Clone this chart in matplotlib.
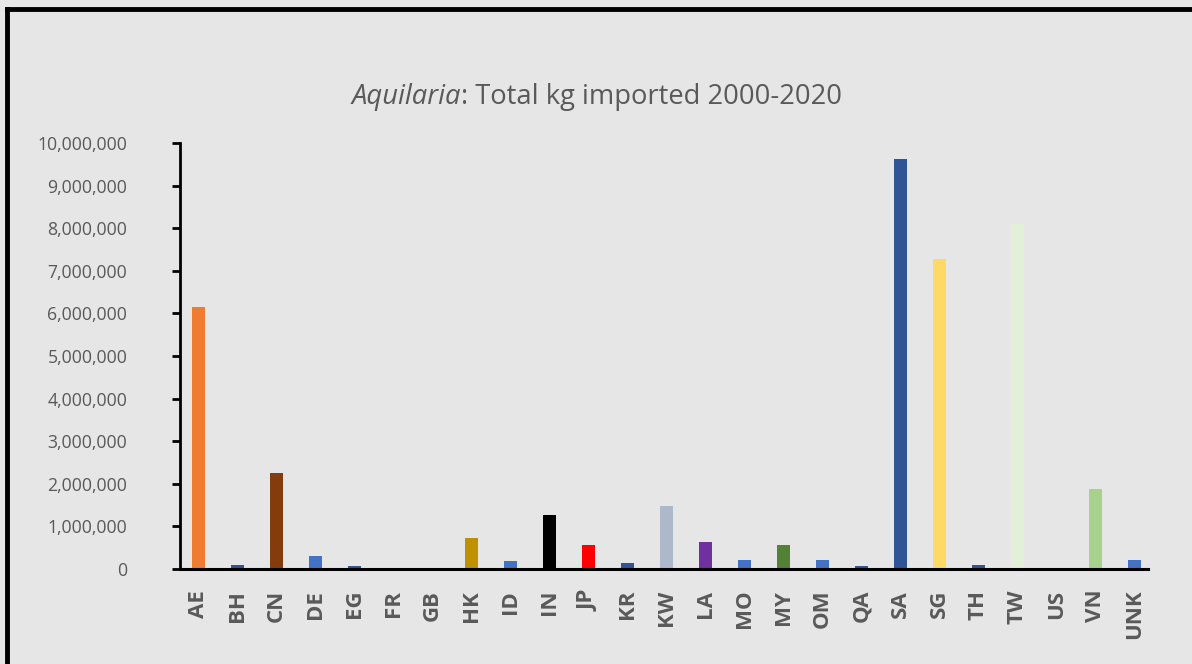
import matplotlib.pyplot as plt
from matplotlib.lines import Line2D
from matplotlib.ticker import FuncFormatter

countries = ["AE", "BH", "CN", "DE", "EG", "FR", "GB", "HK", "ID", "IN",
             "JP", "KR", "KW", "LA", "MO", "MY", "OM", "QA", "SA", "SG",
             "TH", "TW", "US", "VN", "UNK"]
kg_imported = [6150000, 100000, 2250000, 300000, 70000, 0, 0, 730000, 190000, 1270000,
               570000, 140000, 1480000, 640000, 220000, 560000, 220000, 60000, 9620000, 7270000,
               100000, 8100000, 0, 1870000, 220000]
bar_colors = ["#ED7D31", "#2F5597", "#843C0C", "#4472C4", "#2F5597", "#4472C4", "#4472C4",
              "#BF9000", "#4472C4", "#000000", "#FF0000", "#2F5597", "#ADB9CA", "#7030A0",
              "#4472C4", "#548235", "#4472C4", "#2F5597", "#2F5597", "#FFD966", "#2F5597",
              "#E2F0D9", "#4472C4", "#A9D18E", "#4472C4"]

bg = "#E7E6E6"
grey = "#595959"
W, H = 1192, 664

plt.rcParams["font.family"] = ["Open Sans", "DejaVu Sans"]

fig = plt.figure(figsize=(W / 100, H / 100), dpi=100, facecolor=bg)
ax = fig.add_axes([180 / W, 1 - 569 / H, 968 / W, 426 / H])
ax.set_facecolor(bg)

x = range(len(countries))
ax.bar(x, kg_imported, width=0.32, color=bar_colors)

ax.set_ylim(0, 10000000)
ax.set_xlim(-0.47, 24.35)
ax.set_yticks(range(0, 10000001, 1000000))
ax.yaxis.set_major_formatter(FuncFormatter(lambda v, p: f"{int(v):,}"))
ax.set_xticks(list(x))
ax.set_xticklabels(countries, rotation=90, fontweight="bold", fontsize=16, color=grey)
ax.tick_params(axis="x", length=0, pad=15)
ax.tick_params(axis="y", length=6, width=2, colors="black", labelcolor=grey,
               labelsize=12.7, pad=32)

for s in ["top", "right"]:
    ax.spines[s].set_visible(False)
ax.spines["left"].set_linewidth(2)
ax.spines["bottom"].set_linewidth(2.2)

# title: italic genus name followed by plain text, centred as a whole
title_y = 1 - 97 / H
t1 = fig.text(0, title_y, "Aquilaria", style="italic", fontsize=19.7, color=grey, va="center")
t2 = fig.text(0, title_y, ": Total kg imported 2000-2020", fontsize=19.7, color=grey, va="center")
fig.canvas.draw()
r = fig.canvas.get_renderer()
w1 = t1.get_window_extent(r).width
w2 = t2.get_window_extent(r).width
start = 597 - (w1 + w2) / 2
t1.set_x(start / W)
t2.set_x((start + w1) / W)

# chart frame (only left and top edges visible)
fig.add_artist(Line2D([7 / W, 7 / W], [0, 1 - 9 / H], color="black", lw=3.5,
                      transform=fig.transFigure))
fig.add_artist(Line2D([7 / W, 1], [1 - 9 / H, 1 - 9 / H], color="black", lw=3.5,
                      transform=fig.transFigure))

fig.savefig("out.png", dpi=100, facecolor=bg)
